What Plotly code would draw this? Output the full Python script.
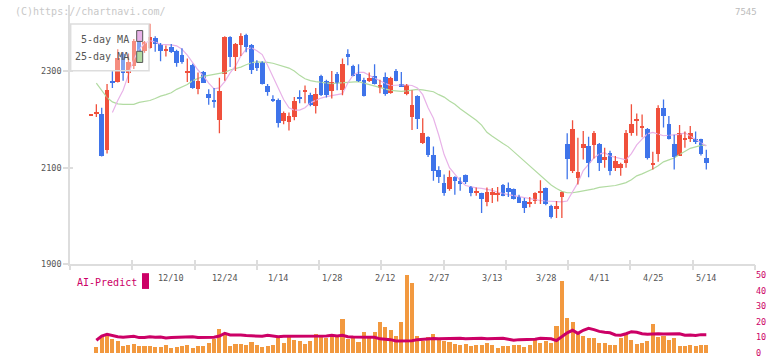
import plotly.graph_objects as go

# ---------------- data ----------------
tick_idx = [15, 25, 35, 45, 55, 65, 75, 85, 95, 105, 115]
tick_text = ["12/10", "12/24", "1/14", "1/28", "2/12", "2/27", "3/13", "3/28", "4/11", "4/25", "5/14"]

opens = [2208, 2212, 2212, 2137, 2280, 2278, 2335, 2297, 2311, 2362,
         2341, 2348, 2369, 2356, 2342, 2350, 2341, 2333, 2296, 2313,
         2263, 2298, 2253, 2241, 2199, 2294, 2370, 2329, 2354, 2375,
         2353, 2316, 2318, 2269, 2243, 2241, 2197, 2195, 2205, 2246,
         2258, 2250, 2227, 2290, 2280, 2258, 2294, 2260, 2335, 2311,
         2294, 2282, 2280, 2290, 2265, 2288, 2254, 2300, 2273, 2253,
         2204, 2248, 2151, 2163, 2127, 2096, 2068, 2056, 2080, 2073,
         2084, 2061, 2048, 2047, 2029, 2044, 2045, 2065, 2059, 2056,
         2040, 2032, 2025, 2032, 2047, 2058, 2021, 2014, 2040, 2149,
         2094, 2078, 2141, 2145, 2148, 2149, 2115, 2131, 2099, 2099,
         2110, 2171, 2197, 2184, 2180, 2107, 2129, 2224, 2190, 2149,
         2125, 2158, 2159, 2159, 2159, 2120]
highs = [2208, 2231, 2224, 2273, 2300, 2345, 2339, 2336, 2366, 2370,
         2362, 2398, 2372, 2358, 2353, 2356, 2344, 2347, 2326, 2315,
         2297, 2300, 2262, 2265, 2286, 2372, 2372, 2358, 2378, 2377,
         2356, 2322, 2320, 2273, 2250, 2243, 2216, 2214, 2246, 2260,
         2270, 2255, 2265, 2292, 2282, 2300, 2298, 2326, 2345, 2313,
         2314, 2286, 2297, 2314, 2282, 2297, 2288, 2304, 2298, 2273,
         2260, 2250, 2202, 2165, 2144, 2103, 2086, 2094, 2082, 2080,
         2086, 2062, 2059, 2048, 2059, 2058, 2060, 2066, 2069, 2057,
         2044, 2037, 2039, 2049, 2074, 2059, 2023, 2031, 2050, 2171,
         2198, 2162, 2176, 2164, 2176, 2151, 2141, 2135, 2124, 2110,
         2178, 2231, 2212, 2210, 2182, 2133, 2229, 2241, 2207, 2168,
         2188, 2175, 2186, 2175, 2160, 2137]
lows = [2208, 2205, 2123, 2129, 2265, 2276, 2280, 2275, 2304, 2334,
        2338, 2346, 2340, 2320, 2330, 2337, 2309, 2315, 2277, 2263,
        2252, 2275, 2230, 2224, 2171, 2280, 2308, 2300, 2331, 2339,
        2294, 2300, 2272, 2249, 2236, 2183, 2190, 2177, 2198, 2233,
        2233, 2227, 2212, 2248, 2245, 2243, 2260, 2250, 2312, 2289,
        2277, 2247, 2277, 2272, 2254, 2249, 2253, 2279, 2267, 2250,
        2178, 2180, 2149, 2122, 2073, 2068, 2042, 2052, 2044, 2052,
        2066, 2041, 2042, 2006, 2020, 2027, 2030, 2041, 2039, 2034,
        2027, 2006, 2018, 2025, 2025, 2022, 1995, 1996, 1996, 2076,
        2089, 2065, 2117, 2080, 2119, 2093, 2100, 2084, 2093, 2083,
        2100, 2166, 2166, 2163, 2117, 2096, 2112, 2183, 2158, 2096,
        2124, 2141, 2153, 2149, 2125, 2096]
closes = [2208, 2216, 2125, 2261, 2276, 2328, 2297, 2318, 2362, 2339,
          2360, 2371, 2356, 2341, 2346, 2339, 2316, 2319, 2298, 2265,
          2280, 2276, 2244, 2237, 2258, 2370, 2329, 2356, 2373, 2350,
          2303, 2306, 2273, 2256, 2239, 2192, 2214, 2206, 2238, 2243,
          2261, 2229, 2252, 2250, 2250, 2278, 2275, 2314, 2331, 2290,
          2280, 2248, 2286, 2273, 2271, 2252, 2286, 2280, 2268, 2271,
          2229, 2201, 2171, 2126, 2094, 2081, 2047, 2080, 2073, 2066,
          2071, 2048, 2050, 2035, 2049, 2049, 2047, 2042, 2050, 2035,
          2028, 2017, 2028, 2047, 2052, 2025, 1997, 2020, 2049, 2117,
          2180, 2092, 2149, 2110, 2171, 2110, 2122, 2094, 2114, 2108,
          2171, 2190, 2200, 2186, 2120, 2110, 2224, 2207, 2159, 2122,
          2171, 2160, 2171, 2153, 2129, 2109]

ma5 = [None, None, None, None, 2214, 2239, 2260, 2294, 2324, 2345,
       2357, 2363, 2360, 2355, 2355, 2354, 2352, 2345, 2333, 2317,
       2302, 2290, 2275, 2263, 2265, 2278, 2296, 2310, 2331, 2345,
       2348, 2342, 2334, 2312, 2288, 2263, 2241, 2224, 2219, 2219,
       2224, 2234, 2239, 2244, 2247, 2249, 2250, 2253, 2275, 2292,
       2297, 2297, 2291, 2285, 2280, 2274, 2270, 2271, 2271, 2271,
       2270, 2265, 2251, 2224, 2202, 2167, 2127, 2100, 2086, 2073,
       2063, 2060, 2058, 2057, 2055, 2053, 2049, 2046, 2044, 2042,
       2040, 2038, 2036, 2033, 2032, 2031, 2030, 2029, 2029, 2031,
       2051, 2069, 2094, 2108, 2120, 2128, 2131, 2124, 2121, 2119,
       2116, 2129, 2147, 2159, 2170, 2173, 2169, 2166, 2167, 2168,
       2169, 2172, 2165, 2158, 2152, 2145]
ma25 = [None, 2275, 2260, 2245, 2236, 2232, 2231, 2231, 2231, 2235,
        2237, 2239, 2243, 2248, 2251, 2255, 2262, 2267, 2272, 2280,
        2285, 2289, 2291, 2293, 2296, 2297, 2302, 2305, 2308, 2313,
        2317, 2319, 2319, 2318, 2316, 2313, 2310, 2306, 2300, 2291,
        2284, 2280, 2278, 2277, 2275, 2274, 2275, 2276, 2277, 2278,
        2278, 2275, 2272, 2269, 2265, 2262, 2260, 2259, 2258, 2259,
        2261, 2262, 2261, 2259, 2257, 2251, 2246, 2238, 2231, 2222,
        2214, 2205, 2198, 2188, 2173, 2165, 2157, 2150, 2143, 2133,
        2124, 2113, 2104, 2094, 2084, 2073, 2064, 2057, 2051, 2048,
        2048, 2050, 2052, 2053, 2056, 2059, 2060, 2062, 2063, 2066,
        2069, 2075, 2083, 2087, 2092, 2097, 2104, 2112, 2116, 2120,
        2127, 2133, 2140, 2143, 2146, 2146]

volume = [None, 4.0, 10.8, 10.8, 8.7, 7.6, 4.6, 5.0, 5.7, 4.6,
          4.6, 4.6, 4.0, 4.0, 5.0, 3.4, 4.0, 4.6, 5.0, 3.4,
          4.6, 4.6, 6.3, 8.9, 15.4, 12.0, 4.6, 5.7, 5.7, 5.0,
          7.0, 5.0, 4.0, 4.6, 5.0, 9.9, 6.3, 9.9, 8.2, 7.6,
          5.7, 7.6, 12.0, 11.2, 9.3, 10.8, 11.2, 21.7, 8.9, 9.5,
          7.0, 13.3, 10.8, 13.3, 19.6, 16.5, 14.6, 10.8, 19.6, 50.0,
          45.0, 10.8, 7.6, 10.1, 12.0, 8.9, 7.6, 7.0, 5.7, 5.0,
          5.7, 4.4, 5.0, 5.0, 6.3, 5.0, 3.2, 4.4, 4.4, 5.0,
          5.0, 4.0, 5.0, 8.2, 6.3, 7.6, 6.3, 17.1, 46.0, 22.4,
          19.8, 13.3, 10.8, 9.5, 9.5, 6.3, 6.3, 5.0, 5.0, 9.5,
          12.0, 8.2, 5.7, 6.3, 7.6, 18.4, 10.1, 10.8, 8.2, 9.5,
          4.4, 4.4, 5.0, 4.4, 5.0, 5.0]
ai_predict = [None, 8.2, 10.9, 12.0, 11.2, 10.5, 10.1, 10.3, 10.8, 9.9,
              9.9, 10.5, 10.1, 10.3, 9.7, 9.9, 10.1, 9.9, 10.1, 10.5,
              9.9, 10.1, 9.9, 10.1, 10.9, 12.6, 11.6, 11.8, 11.6, 11.2,
              11.0, 10.8, 10.8, 11.4, 10.8, 10.5, 10.8, 10.8, 10.8, 10.8,
              10.8, 10.8, 11.0, 11.0, 11.0, 11.4, 11.0, 11.4, 10.5, 10.3,
              10.3, 10.3, 10.3, 10.1, 9.1, 8.9, 8.6, 7.8, 7.9, 7.6,
              7.9, 8.6, 8.9, 8.9, 9.3, 9.1, 9.3, 9.3, 9.5, 9.5,
              9.1, 9.3, 9.5, 9.5, 9.1, 9.1, 9.1, 9.5, 8.9, 8.2,
              8.6, 8.6, 8.6, 8.9, 9.5, 9.3, 9.1, 8.0, 10.3, 13.0,
              14.6, 12.6, 14.6, 15.8, 15.0, 13.9, 13.3, 13.0, 11.6, 11.4,
              12.4, 13.7, 13.3, 12.4, 12.0, 12.4, 12.4, 12.2, 12.2, 12.4,
              12.4, 11.4, 11.6, 11.2, 11.8, 11.8]
vol_ticks = [0, 10, 20, 30, 40, 50]
price_ticks = [1900, 2100, 2300]

# ---------------- styling ----------------
W, H = 772, 361
RED = "#f0503c"
BLUE = "#3f74ea"
ORANGE = "#f2993f"
CRIMSON = "#cc0066"
PINK = "#e8b2e8"
GREEN = "#b2dba2"
AXIS = "#dddddd"
MONO = "DejaVu Sans Mono"

def px_x(p):
    return p / W

def px_y(p):
    return 1 - p / H

idx = list(range(len(opens)))
up = [c >= o for o, c in zip(opens, closes)]
body_base = [min(o, c) for o, c in zip(opens, closes)]
body_h = [max(abs(c - o), 2.6) for o, c in zip(opens, closes)]
body_col = [RED if u else BLUE for u in up]

fig = go.Figure()

# moving averages
fig.add_trace(go.Scatter(x=idx, y=ma25, mode="lines", line=dict(color=GREEN, width=1.2),
                         hoverinfo="skip", showlegend=False))
fig.add_trace(go.Scatter(x=idx, y=ma5, mode="lines", line=dict(color=PINK, width=1.2),
                         hoverinfo="skip", showlegend=False))

# wicks
for flag, col in ((True, RED), (False, BLUE)):
    wx, wy = [], []
    for i in idx:
        if up[i] == flag:
            wx += [i, i, None]
            wy += [lows[i], highs[i], None]
    fig.add_trace(go.Scatter(x=wx, y=wy, mode="lines", line=dict(color=col, width=1.3),
                             hoverinfo="skip", showlegend=False))

# bodies
fig.add_trace(go.Bar(x=idx, y=body_h, base=body_base, width=0.86,
                     marker=dict(color=body_col, line=dict(width=0)),
                     hoverinfo="skip", showlegend=False))

# volume panel
fig.add_trace(go.Bar(x=idx, y=volume, width=0.76, xaxis="x2", yaxis="y2",
                     marker=dict(color=ORANGE, line=dict(width=0)),
                     hoverinfo="skip", showlegend=False))
fig.add_trace(go.Scatter(x=idx, y=ai_predict, mode="lines", xaxis="x2", yaxis="y2",
                         line=dict(color=CRIMSON, width=3), hoverinfo="skip", showlegend=False))

# dummy traces for tick-only overlay axes
fig.add_trace(go.Scatter(x=[0, 11], y=[None, None], xaxis="x3", yaxis="y",
                         hoverinfo="skip", showlegend=False))
fig.add_trace(go.Scatter(x=[0, 11], y=[None, None], xaxis="x4", yaxis="y",
                         hoverinfo="skip", showlegend=False))
fig.add_trace(go.Scatter(x=[None], y=[None], xaxis="x", yaxis="y3",
                         hoverinfo="skip", showlegend=False))

xdom = [px_x(70), px_x(755)]
xr = [-3.925, 124.1]
ydom = [px_y(268), px_y(5)]
yr = [1900, 2436.7]

fig.update_layout(
    width=W, height=H, autosize=False,
    margin=dict(l=0, r=0, t=0, b=0, pad=0),
    paper_bgcolor="white", plot_bgcolor="rgba(0,0,0,0)",
    barmode="overlay", bargap=0,
    font=dict(family=MONO, size=9, color="#555555"),
    xaxis=dict(domain=xdom, range=xr, anchor="y", showticklabels=False, ticks="",
               showgrid=False, zeroline=False, showline=True, linecolor=AXIS, linewidth=1.5),
    xaxis3=dict(domain=xdom, range=[0, 11], overlaying="x", anchor="y", side="bottom",
                tickvals=list(range(12)), ticks="outside", ticklen=5, tickcolor=AXIS,
                tickwidth=1.5, showticklabels=False, showgrid=False, zeroline=False,
                showline=False),
    xaxis4=dict(domain=xdom, range=[0, 11], overlaying="x", anchor="y", side="bottom",
                tickvals=list(range(1, 12)), ticks="inside", ticklen=4, tickcolor=AXIS,
                tickwidth=1.5, showticklabels=False, showgrid=False, zeroline=False,
                showline=False),
    yaxis=dict(domain=ydom, range=yr, anchor="x",
               tickvals=price_ticks, ticks="outside", ticklen=5, tickcolor=AXIS,
               tickwidth=1.5, showgrid=False, zeroline=False, showline=True, linecolor=AXIS,
               linewidth=1.5, tickfont=dict(family=MONO, size=8.5, color="#555555")),
    yaxis3=dict(domain=ydom, range=yr, overlaying="y", anchor="x", side="left",
                tickvals=price_ticks[1:], ticks="inside", ticklen=3, tickcolor=AXIS,
                tickwidth=1.5, showticklabels=False, showgrid=False, zeroline=False,
                showline=False),
    xaxis2=dict(domain=xdom, range=xr, anchor="y2", showticklabels=False, ticks="",
                showgrid=False, zeroline=False, showline=False),
    yaxis2=dict(domain=[px_y(358), px_y(272)], range=[0, 54.4], anchor="x2",
                side="right", tickvals=vol_ticks, ticks="", ticklabelstandoff=0,
                showgrid=False, zeroline=False, showline=False,
                tickfont=dict(family=MONO, size=8.5, color=CRIMSON)),
)

# date labels placed through the volume panel's x scale
for ti, tt in zip(tick_idx, tick_text):
    fig.add_annotation(xref="x2", yref="paper", x=ti, y=px_y(282), text=tt,
                       showarrow=False, xanchor="center", yanchor="middle",
                       font=dict(family=MONO, size=8.5, color="#555555"))

# legend box for the moving averages
fig.add_shape(type="rect", xref="paper", yref="paper",
              x0=px_x(70.7), x1=px_x(149), y0=px_y(71.7), y1=px_y(24.3),
              line=dict(color=AXIS, width=1.5), fillcolor="rgba(255,255,255,0.35)", layer="above")
fig.add_shape(type="rect", xref="paper", yref="paper",
              x0=px_x(136.7), x1=px_x(142.7), y0=px_y(42), y1=px_y(31),
              line=dict(color="#555555", width=1), fillcolor=PINK, layer="above")
fig.add_shape(type="rect", xref="paper", yref="paper",
              x0=px_x(136.7), x1=px_x(142.7), y0=px_y(63.3), y1=px_y(52),
              line=dict(color="#555555", width=1), fillcolor=GREEN, layer="above")
fig.add_annotation(xref="paper", yref="paper", x=px_x(131), y=px_y(40), text="5-day MA",
                   showarrow=False, xanchor="right", yanchor="middle",
                   font=dict(family=MONO, size=10, color="#555555"))
fig.add_annotation(xref="paper", yref="paper", x=px_x(131), y=px_y(57.5), text="25-day MA",
                   showarrow=False, xanchor="right", yanchor="middle",
                   font=dict(family=MONO, size=10, color="#555555"))

# AI-Predict label
fig.add_annotation(xref="paper", yref="paper", x=px_x(75), y=px_y(286), text="AI-Predict",
                   showarrow=False, xanchor="left", yanchor="middle",
                   font=dict(family=MONO, size=10, color=CRIMSON))
fig.add_shape(type="rect", xref="paper", yref="paper",
              x0=px_x(142), x1=px_x(149), y0=px_y(293), y1=px_y(277),
              line=dict(width=0), fillcolor=CRIMSON)

# watermark and code
fig.add_annotation(xref="paper", yref="paper", x=px_x(13), y=px_y(12),
                   text="(C)https://chartnavi.com/", showarrow=False, xanchor="left",
                   yanchor="middle", font=dict(family=MONO, size=10, color="#c8c8c8"))
fig.add_annotation(xref="paper", yref="paper", x=px_x(759), y=px_y(12), text="7545",
                   showarrow=False, xanchor="right", yanchor="middle",
                   font=dict(family=MONO, size=9, color="#bbbbbb"))

post = (
    "document.documentElement.style.margin='0';"
    "document.documentElement.style.overflow='hidden';"
    "document.body.style.margin='0';"
    "document.body.style.overflow='hidden';"
)
fig.write_html("out.html", post_script=post, config={"displayModeBar": False})
